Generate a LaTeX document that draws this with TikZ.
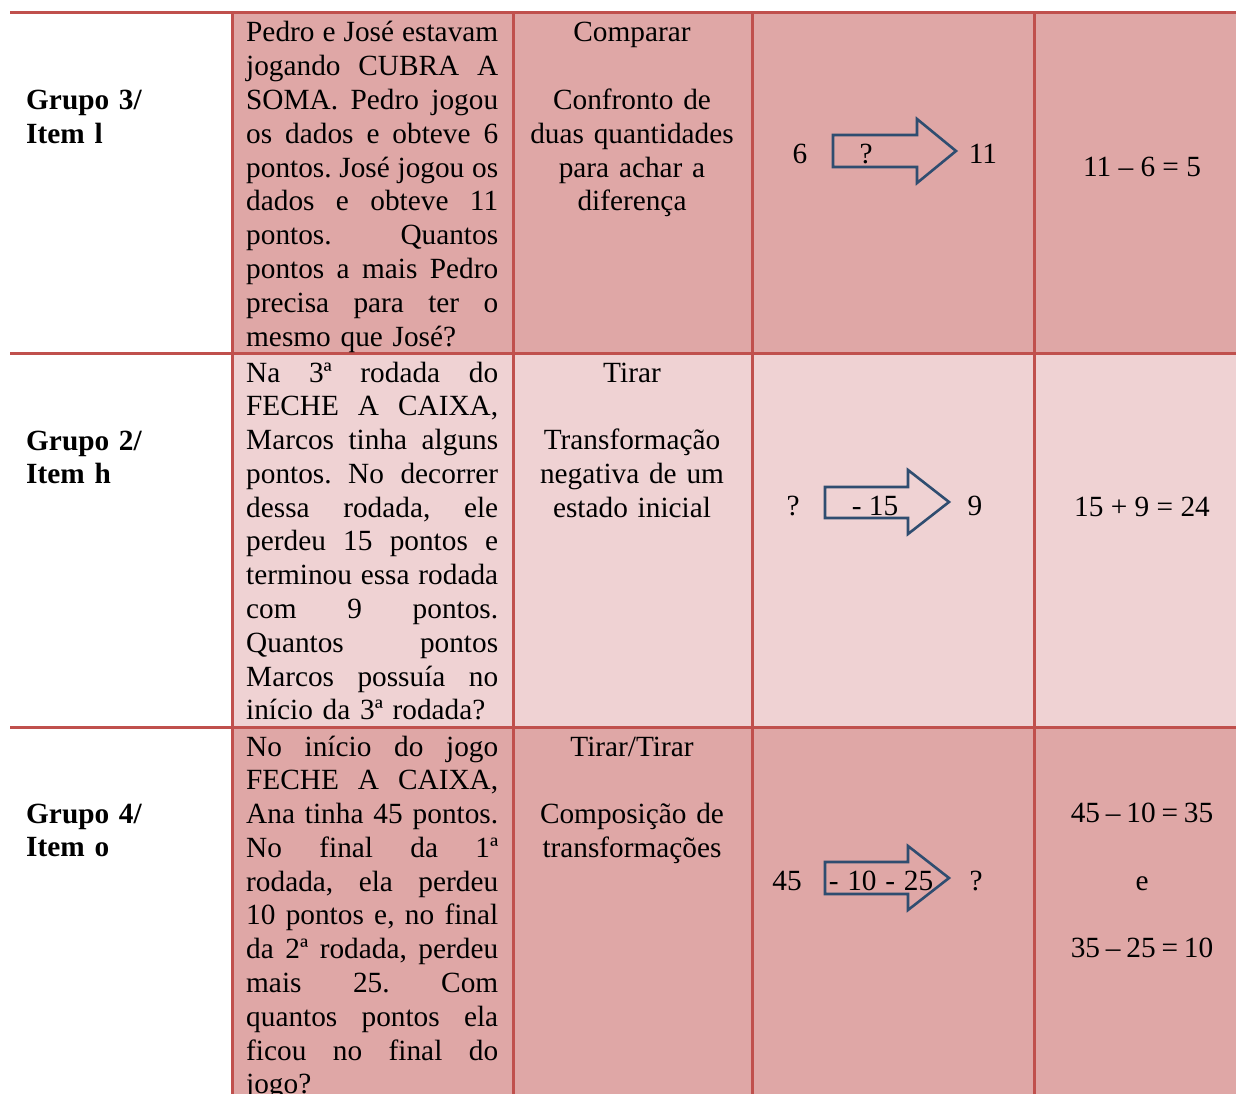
\documentclass[tikz,border=0pt]{standalone}
\usepackage{fontspec}
\setmainfont{Liberation Serif}
\usetikzlibrary{positioning}
\definecolor{gridred}{HTML}{C0504D}
\definecolor{rowdark}{HTML}{DFA7A6}
\definecolor{rowlight}{HTML}{EFD2D3}
\definecolor{arrowblue}{HTML}{2F4D70}
\frenchspacing
% one justified line of the question column
\newcommand{\jline}[1]{\leavevmode\hbox to 252pt{\spaceskip=0.25em plus 1fil minus 0.1em\relax #1}\\}

\begin{document}
\begin{tikzpicture}[x=1pt, y=-1pt,
		txt/.style={font=\fontsize{29.3}{33.78}\selectfont, inner sep=0pt},
		qtext/.style={txt, anchor=base west, text width=252pt, align=left},
		ctext/.style={txt, anchor=base, text width=230pt, align=center},
		grp/.style={txt, anchor=base west, text width=180pt, align=left, font=\fontsize{29.3}{33.78}\selectfont\bfseries},
		num/.style={txt, anchor=base},
		rule/.style={gridred, line width=3pt},
		blockarrow/.style={arrowblue, line width=2.6pt, line join=miter}]
	\useasboundingbox (0,0) rectangle (1236,1094);
	\clip (0,0) rectangle (1236,1094);

	% row backgrounds
	\fill[rowdark] (232,13) rectangle (1236,353);
	\fill[rowlight] (232,353) rectangle (1236,727);
	\fill[rowdark] (232,727) rectangle (1236,1094);

	% grid
	\foreach \y in {13,353,727}
		\draw[rule] (10,\y) -- (1236,\y);
	\foreach \x in {232,513,752,1034}
		\draw[rule] (\x,13) -- (\x,1094);

	% row 1
	\node[grp] (g3) at (26,110) {Grupo 3/\\Item l};
	\node[qtext] (p3) at (246,42) {\jline{Pedro e José estavam}\jline{jogando CUBRA A}\jline{SOMA. Pedro jogou}\jline{os dados e obteve 6}\jline{pontos. José jogou os}\jline{dados e obteve 11}\jline{pontos. Quantos}\jline{pontos a mais Pedro}\jline{precisa para ter o}mesmo que José?};
	\node[ctext] (c3) at (632,42) {Comparar\\\mbox{}\\Confronto de\\duas quantidades\\para achar a\\diferença};
	\node[num] (s3) at (800,163.5) {6};
	\draw[blockarrow] (833,135) -- (917,135) -- (917,119) -- (956,151) -- (917,183) -- (917,167) -- (833,167) -- cycle;
	\node[num] (t3) at (866,163.5) {?};
	\node[num] (e3) at (983,163.5) {11};
	\node[num] (r3) at (1142,176.5) {11 – 6 = 5};

	% row 2
	\node[grp] (g2) at (26,450) {Grupo 2/\\Item h};
	\node[qtext] (p2) at (246,382) {\jline{Na 3ª rodada do}\jline{FECHE A CAIXA,}\jline{Marcos tinha alguns}\jline{pontos. No decorrer}\jline{dessa rodada, ele}\jline{perdeu 15 pontos e}\jline{terminou essa rodada}\jline{com 9 pontos.}\jline{Quantos pontos}\jline{Marcos possuía no}início da 3ª rodada?};
	\node[ctext] (c2) at (632,382) {Tirar\\\mbox{}\\Transformação\\negativa de um\\estado inicial};
	\node[num] (s2) at (793,515.5) {?};
	\draw[blockarrow] (825,487) -- (908,487) -- (908,470) -- (949,502) -- (908,534) -- (908,518) -- (825,518) -- cycle;
	\node[num] (t2) at (875,515) {- 15};
	\node[num] (e2) at (975,515) {9};
	\node[num] (r2) at (1142,516.5) {15 + 9 = 24};

	% row 3
	\node[grp] (g4) at (26,823) {Grupo 4/\\Item o};
	\node[qtext] (p4) at (246,756) {\jline{No início do jogo}\jline{FECHE A CAIXA,}\jline{Ana tinha 45 pontos.}\jline{No final da 1ª}\jline{rodada, ela perdeu}\jline{10 pontos e, no final}\jline{da 2ª rodada, perdeu}\jline{mais 25. Com}\jline{quantos pontos ela}\jline{ficou no final do}jogo?};
	\node[ctext] (c4) at (632,756) {Tirar/Tirar\\\mbox{}\\Composição de\\transformações};
	\node[num] (s4) at (787,890.5) {45};
	\draw[blockarrow] (825,862) -- (908,862) -- (908,846) -- (949,878) -- (908,910) -- (908,894) -- (825,894) -- cycle;
	\node[num] (t4) at (881,890) {\spaceskip=0.3em\relax - 10 - 25};
	\node[num] (e4) at (976,890) {?};
	\node[ctext] (r4) at (1142,822.5) {\spaceskip=0.2em\relax 45 – 10 = 35\\\mbox{}\\e\\\mbox{}\\35 – 25 = 10};
\end{tikzpicture}
\end{document}
